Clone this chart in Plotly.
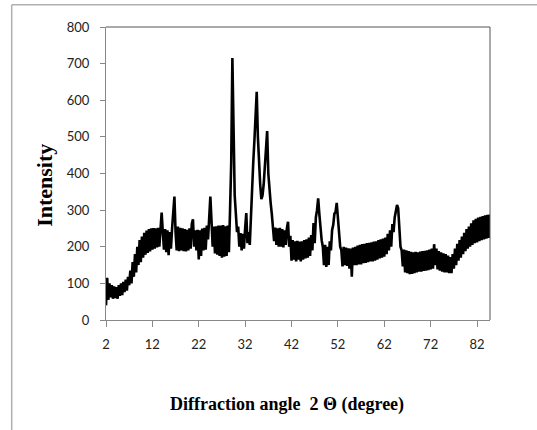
import numpy as np
import plotly.graph_objects as go

# Diffraction angle 2θ sampling (degrees)
two_theta = np.arange(2.0, 85.01, 0.25)

# Intensity (one value per 0.25°, noisy band)
intensity = [
    40, 115, 55, 100, 62, 95, 58, 92, 60, 90, 58, 95, 66, 100, 68, 104, 76, 110, 80, 118,            # 2.0 - 6.75
    95, 135, 100, 158, 118, 180, 130, 200, 150, 218, 158, 228, 170, 238, 178, 244, 183, 248, 187, 250,  # 7.0 - 11.75
    192, 251, 195, 250, 198, 252, 200, 265, 293, 240, 192, 248, 185, 245, 177, 240, 195, 250, 290, 337, # 12.0 - 16.75
    240, 190, 255, 188, 252, 190, 250, 188, 248, 187, 246, 190, 250, 195, 262, 275, 200, 245, 190, 246, # 17.0 - 21.75
    165, 245, 175, 250, 190, 252, 192, 258, 220, 300, 337, 270, 200, 255, 182, 256, 178, 258, 175, 258, # 22.0 - 26.75
    170, 259, 173, 256, 175, 258, 185, 300, 430, 715, 560, 340, 290, 240, 255, 200, 237, 190, 235, 195, # 27.0 - 31.75
    250, 292, 210, 240, 205, 300, 360, 430, 490, 560, 623, 500, 420, 370, 330, 340, 370, 420, 470, 516, # 32.0 - 36.75
    400, 350, 320, 290, 255, 215, 252, 205, 250, 200, 252, 200, 248, 198, 245, 205, 250, 268, 200, 230, # 37.0 - 41.75
    162, 218, 165, 215, 160, 216, 165, 214, 160, 215, 165, 218, 168, 220, 170, 225, 175, 232, 190, 265, # 42.0 - 46.75
    210, 280, 300, 332, 290, 250, 218, 200, 150, 205, 145, 200, 150, 215, 190, 245, 260, 290, 295, 320, # 47.0 - 51.75
    270, 240, 200, 190, 146, 200, 150, 198, 148, 196, 140, 195, 118, 198, 150, 200, 150, 203, 152, 205, # 52.0 - 56.75
    152, 207, 155, 208, 156, 210, 158, 211, 160, 212, 160, 214, 162, 215, 165, 218, 168, 220, 170, 222, # 57.0 - 61.75
    173, 225, 180, 235, 190, 245, 200, 262, 240, 280, 300, 314, 305, 250, 200, 190, 146, 192, 130, 190, # 62.0 - 66.75
    128, 188, 125, 186, 126, 185, 128, 186, 130, 185, 132, 187, 132, 188, 134, 189, 135, 190, 136, 192, # 67.0 - 71.75
    138, 195, 140, 207, 150, 195, 138, 188, 135, 185, 132, 182, 130, 180, 130, 176, 128, 172, 128, 180, # 72.0 - 76.75
    140, 195, 150, 208, 162, 218, 170, 228, 180, 238, 188, 248, 195, 255, 200, 264, 205, 272, 210, 276, # 77.0 - 81.75
    212, 280, 215, 282, 218, 284, 220, 286, 222, 287, 224, 288, 230,                                     # 82.0 - 85.0
]

x_ticks = [2, 12, 22, 32, 42, 52, 62, 72, 82]
y_ticks = [0, 100, 200, 300, 400, 500, 600, 700, 800]

tick_font = dict(family="Lato, 'Open Sans', sans-serif", size=13, color="#222222")
title_font = dict(family="'Liberation Serif', 'Times New Roman', serif", color="black")

fig = go.Figure()
fig.add_trace(go.Scatter(
    x=two_theta, y=intensity, mode="lines",
    line=dict(color="black", width=2.6),
    showlegend=False, hoverinfo="skip",
))

fig.update_layout(
    width=537, height=430,
    margin=dict(l=106, r=47, t=27, b=110),
    paper_bgcolor="white", plot_bgcolor="white",
    xaxis=dict(
        range=[2, 84.8], tickmode="array", tickvals=x_ticks,
        ticktext=[str(v) for v in x_ticks],
        ticks="outside", ticklen=6, tickcolor="#888888", tickwidth=1,
        showline=True, linecolor="#888888", linewidth=1,
        showgrid=False, zeroline=False, tickfont=tick_font,
        ticklabelstandoff=6,
    ),
    yaxis=dict(
        range=[0, 800], tickmode="array", tickvals=y_ticks,
        ticks="outside", ticklen=5, tickcolor="#888888", tickwidth=1,
        showline=True, linecolor="#888888", linewidth=1,
        showgrid=False, zeroline=False, tickfont=tick_font,
        ticklabelstandoff=8,
    ),
    annotations=[
        dict(text="<b>Diffraction angle  2 Θ (degree)</b>", xref="paper", yref="paper",
             x=0.471, y=-0.29, showarrow=False, font=dict(size=18, **title_font),
             xanchor="center", yanchor="middle"),
        dict(text="<b>Intensity</b>", xref="paper", yref="paper",
             x=-0.159, y=0.461, showarrow=False, textangle=-90,
             font=dict(size=22, **title_font), xanchor="center", yanchor="middle"),
    ],
    shapes=[
        # plot-area border (top and right)
        dict(type="line", xref="paper", yref="paper", x0=0, x1=1, y0=1, y1=1,
             line=dict(color="#555555", width=1)),
        dict(type="line", xref="paper", yref="paper", x0=1, x1=1, y0=0, y1=1,
             line=dict(color="#555555", width=1)),
        # outer frame (top and left)
        dict(type="line", xref="paper", yref="paper", x0=-0.2456, x1=1.13, y0=1.076, y1=1.076,
             line=dict(color="#b0b0b0", width=1.5)),
        dict(type="line", xref="paper", yref="paper", x0=-0.2456, x1=-0.2456, y0=1.076, y1=-0.38,
             line=dict(color="#b0b0b0", width=1.5)),
    ],
)

fig.write_html("out.html")
